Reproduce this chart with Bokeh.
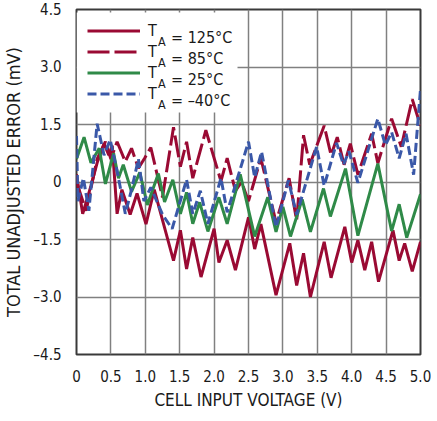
from bokeh.plotting import figure
from bokeh.models import Range1d, FixedTicker, Legend, LegendItem, Label, BoxAnnotation
from bokeh.embed import file_html
from bokeh.resources import INLINE

# ---- data ----
x125 = [0, 0.09, 0.21, 0.3, 0.4, 0.47, 0.52, 0.59, 0.66, 0.78, 0.88, 1.01, 1.13, 1.41, 1.51, 1.6, 1.69, 1.81,
        2.0, 2.07, 2.19, 2.31, 2.5, 2.59, 2.68, 2.9, 3.1, 3.2, 3.3, 3.4, 3.6, 3.7, 3.9, 4.0, 4.09, 4.19, 4.29,
        4.39, 4.6, 4.69, 4.77, 4.88, 5.0]
y125 = [0.2, -0.83, -0.1, 0.5, 1.0, 0.7, 0.95, -0.83, -0.2, -0.85, -0.3, -1.1, -0.2, -2.05, -1.26, -2.27, -1.45, -2.48,
        -1.22, -2.1, -1.52, -2.3, -0.92, -1.75, -1.1, -2.95, -1.6, -2.7, -1.86, -3.0, -1.56, -2.5, -1.17, -2.1, -1.52,
        -2.3, -1.56, -2.6, -1.26, -2.05, -1.6, -2.33, -1.56]

x85 = [0, 0.14, 0.3, 0.42, 0.5, 0.59, 0.71, 0.8, 0.9, 0.99, 1.08, 1.25, 1.41, 1.51, 1.6, 1.69, 1.88, 2.1, 2.19,
       2.31, 2.4, 2.5, 2.68, 2.9, 3.09, 3.2, 3.3, 3.39, 3.6, 3.7, 3.79, 3.89, 3.98, 4.09, 4.29, 4.38, 4.58, 4.72,
       4.88, 5.0]
y85 = [0.0, -0.75, 0.6, 1.05, 0.6, 1.05, 0.53, 0.88, 0.36, 0.62, 0.9, -0.4, 1.43, 0.4, 1.05, 0.1, 1.35, 0.02, 0.62,
       -0.23, 0.0, -0.5, 0.62, -1.05, 0.1, -1.0, 1.22, 0.45, 1.47, 0.7, 1.17, 0.45, 1.0, 0.19, 1.26, 0.49, 1.65, 0.92,
       2.16, 1.47]

x25 = [0, 0.11, 0.21, 0.33, 0.42, 0.54, 0.61, 0.68, 0.8, 0.92, 1.03, 1.19, 1.28, 1.4, 1.51, 1.6, 1.69, 1.79, 1.91,
       2.07, 2.19, 2.38, 2.59, 2.78, 2.9, 3.0, 3.11, 3.28, 3.4, 3.59, 3.69, 3.91, 4.09, 4.38, 4.58, 4.69, 4.8, 5.0]
y25 = [0.6, 1.17, 0.5, 0.88, -0.05, 0.75, 0.1, 0.45, -0.25, 0.25, -0.6, 0.22, -0.52, 0.06, -0.83, -0.27, -1.09,
       -0.53, -1.29, -0.4, -1.09, 0.2, -1.42, -0.4, -1.3, -0.65, -1.42, -0.45, -1.3, -0.17, -0.9, 0.35, -1.4, 0.48,
       -1.28, -0.58, -1.45, -0.32]

xm40 = [0, 0.02, 0.1, 0.18, 0.3, 0.4, 0.49, 0.6, 0.71, 0.8, 0.9, 0.98, 1.08, 1.25, 1.39, 1.6, 1.69, 1.8, 1.91,
        2.1, 2.19, 2.5, 2.59, 2.69, 2.9, 3.08, 3.2, 3.49, 3.6, 3.78, 3.88, 3.96, 4.09, 4.38, 4.49, 4.58, 4.69,
        4.79, 4.9, 5.0]
ym40 = [1.2, -0.5, 0.1, -0.75, 1.52, 0.7, 1.1, 0.2, -0.83, -0.2, 0.6, -0.5, -0.14, -0.85, -1.22, 0.06, -0.83, -0.23,
        -1.09, 0.1, -0.79, 1.05, 0.12, 0.79, -1.18, 0.04, -0.85, 0.92, -0.1, 1.02, 0.45, 0.8, -0.02, 1.65, 0.96, 1.3,
        0.62, 1.26, 0.19, 2.42]

x_ticks = [0, 0.5, 1.0, 1.5, 2.0, 2.5, 3.0, 3.5, 4.0, 4.5, 5.0]
x_tick_labels = ["0", "0.5", "1.0", "1.5", "2.0", "2.5", "3.0", "3.5", "4.0", "4.5", "5.0"]
y_ticks = [-4.5, -3.0, -1.5, 0, 1.5, 3.0, 4.5]
y_tick_labels = ["\u20134.5", "\u20133.0", "\u20131.5", "0", "1.5", "3.0", "4.5"]

legend_values = ["= 125\u00b0C", "= 85\u00b0C", "= 25\u00b0C", "= \u201340\u00b0C"]

RED = "#9a0a33"
GREEN = "#2f8a48"
BLUE = "#3a58a8"
FONT = "DejaVu Sans Condensed"
TXT = "#1a1a1a"

FW, FH = 344, 345
X0, X1, Y0, Y1 = 0, 5, -4.5, 4.5
ppx = FW / (X1 - X0)
ppy = FH / (Y1 - Y0)

p = figure(frame_width=FW, frame_height=FH,
           min_border_left=66, min_border_right=11, min_border_top=9, min_border_bottom=51,
           x_range=Range1d(X0, X1), y_range=Range1d(Y0, Y1),
           output_backend="svg", toolbar_location=None)

p.background_fill_color = "white"
p.border_fill_color = "white"
p.outline_line_color = "#3a3a3a"
p.outline_line_width = 2

for ax, ticks, labels in ((p.xaxis, x_ticks, x_tick_labels), (p.yaxis, y_ticks, y_tick_labels)):
    ax.ticker = FixedTicker(ticks=ticks)
    ax.major_label_overrides = {t: l for t, l in zip(ticks, labels)}
    ax.axis_line_color = None
    ax.major_tick_line_color = None
    ax.minor_tick_line_color = None
    ax.major_label_text_font = FONT
    ax.major_label_text_font_size = "15px"
    ax.major_label_text_color = TXT
    ax.axis_label_text_font = FONT
    ax.axis_label_text_font_style = "normal"
    ax.axis_label_text_color = TXT
    ax.major_label_standoff = 9

p.xaxis.axis_label = "CELL INPUT VOLTAGE (V)"
p.yaxis.axis_label = "TOTAL UNADJUSTED ERROR (mV)"
p.xaxis.axis_label_text_font_size = "17px"
p.yaxis.axis_label_text_font_size = "18px"
p.xaxis.axis_label_standoff = 5
p.yaxis.axis_label_standoff = 6

p.xgrid.ticker = FixedTicker(ticks=x_ticks)
p.ygrid.ticker = FixedTicker(ticks=y_ticks)
for g in (p.xgrid, p.ygrid):
    g.grid_line_color = "#808080"
    g.grid_line_width = 1.5

# white panel behind the legend (covers the grid there)
MARGIN, PAD, GW, ROWH, STAND, LW = 3, 8, 53, 21, 8, 81
box_w = MARGIN + PAD + GW + STAND + LW + PAD
box_h = MARGIN + PAD + 4 * ROWH + PAD
p.add_layout(BoxAnnotation(left=X0, right=X0 + box_w / ppx, top=Y1 - MARGIN / ppy, bottom=Y1 - box_h / ppy,
                           fill_color="white", fill_alpha=1.0, line_alpha=0, level="underlay"))

r125 = p.line(x125, y125, line_color=RED, line_width=3)
r85 = p.line(x85, y85, line_color=RED, line_width=3, line_dash="22 5")
r25 = p.line(x25, y25, line_color=GREEN, line_width=3)
rm40 = p.line(xm40, ym40, line_color=BLUE, line_width=3, line_dash="9 4")

legend = Legend(items=[LegendItem(label="T", renderers=[r]) for r in (r125, r85, r25, rm40)],
                location="top_left", margin=MARGIN, padding=PAD, spacing=0,
                glyph_width=GW, glyph_height=ROWH, label_height=ROWH, label_width=LW, label_standoff=STAND,
                label_text_font=FONT, label_text_font_size="16px", label_text_color=TXT,
                background_fill_alpha=0.0, border_line_alpha=0)
p.add_layout(legend)

t_left = MARGIN + PAD + GW + STAND          # px from frame left where "T" starts
for i, txt in enumerate(legend_values):
    base_px = MARGIN + PAD + ROWH / 2 + ROWH * i + 6   # baseline, px from frame top
    p.add_layout(Label(x=X0 + (t_left + 9.5) / ppx, y=Y1 - (base_px + 4) / ppy, text="A",
                       text_font=FONT, text_font_size="12.5px", text_color=TXT, text_baseline="alphabetic"))
    p.add_layout(Label(x=X0 + (t_left + 22.5) / ppx, y=Y1 - base_px / ppy, text=txt,
                       text_font=FONT, text_font_size="16px", text_color=TXT, text_baseline="alphabetic"))

open("out.html", "w").write(file_html(p, INLINE))
